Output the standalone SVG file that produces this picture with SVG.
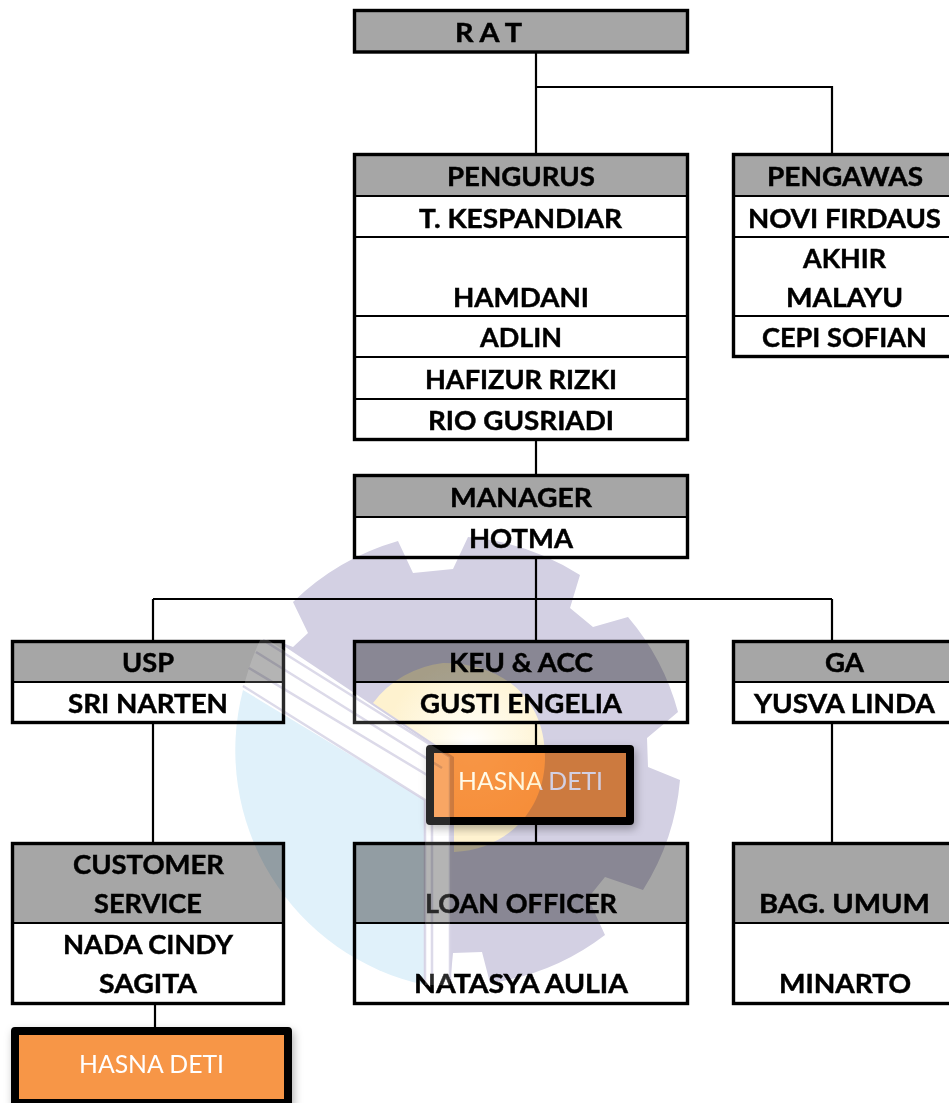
<svg xmlns="http://www.w3.org/2000/svg" width="949" height="1103" viewBox="0 0 949 1103">
<style>
.h{fill:#a6a6a6}
.c{fill:#fff}
.f{fill:none;stroke:#000;stroke-width:3.400}
.r{stroke:#000;stroke-width:2.200;fill:none}
.conn{stroke:#000;stroke-width:2.200;fill:none}
text{font-family:"Lato","Carlito","Open Sans",sans-serif}
.t{font-weight:700;font-size:26.500px;fill:#000;stroke:#000;stroke-width:.45}
.o{fill:#f79646;stroke:#000;stroke-width:8;stroke-linejoin:round}
.ot{font-size:25.500px;fill:#fff}
.sl{fill:none;stroke:#d6d3e5;stroke-width:2.500}
</style>
<defs>
<radialGradient id="y" gradientUnits="userSpaceOnUse" cx="470" cy="745" r="85">
<stop offset="0" stop-color="#fff"/><stop offset="0.35" stop-color="#fffbec"/><stop offset="1" stop-color="#fef2cf"/>
</radialGradient>
<filter id="sh" x="-10%" y="-20%" width="120%" height="140%"><feDropShadow dx="2" dy="4" stdDeviation="4" flood-color="#000" flood-opacity=".3"/></filter>
</defs>
<rect width="949" height="1103" fill="#fff"/>
<g id="connectors" class="conn">
<path d="M536 53V153M536 87H832V153M536 440V474M536 558V640M153 599H832M153 599V640M832 599V640M153 723V842M536 723V745M536 825V842M832 723V842M155 1004V1027"/>
</g>
<g id="rat"><rect class="h" x="354.500" y="10.500" width="333" height="41.500"/><rect class="f" x="354.500" y="10.500" width="333" height="41.500"/>
<text class="t" x="455" y="42" textLength="67" lengthAdjust="spacingAndGlyphs">R A T</text></g>
<g id="pengurus"><rect class="h" x="354.500" y="154.500" width="333" height="41"/><path class="r" d="M355 196H687M355 237H687M355 316H687M355 357H687M355 399H687"/><rect class="f" x="354.500" y="154.500" width="333" height="285"/>
<text class="t" x="447" y="186" textLength="148" lengthAdjust="spacingAndGlyphs">PENGURUS</text>
<text class="t" x="419" y="228" textLength="203" lengthAdjust="spacingAndGlyphs">T. KESPANDIAR</text>
<text class="t" x="453" y="307" textLength="136" lengthAdjust="spacingAndGlyphs">HAMDANI</text>
<text class="t" x="480" y="347" textLength="82" lengthAdjust="spacingAndGlyphs">ADLIN</text>
<text class="t" x="425" y="389" textLength="192" lengthAdjust="spacingAndGlyphs">HAFIZUR RIZKI</text>
<text class="t" x="428" y="430" textLength="186" lengthAdjust="spacingAndGlyphs">RIO GUSRIADI</text></g>
<g id="pengawas"><rect class="h" x="733.500" y="154.500" width="220" height="41"/><path class="r" d="M734 196H949M734 237H949M734 316H949"/><rect class="f" x="733.500" y="154.500" width="220" height="202"/>
<text class="t" x="767" y="186" textLength="156" lengthAdjust="spacingAndGlyphs">PENGAWAS</text>
<text class="t" x="748" y="228" textLength="193" lengthAdjust="spacingAndGlyphs">NOVI FIRDAUS</text>
<text class="t" x="803" y="268" textLength="83" lengthAdjust="spacingAndGlyphs">AKHIR</text>
<text class="t" x="786" y="307" textLength="117" lengthAdjust="spacingAndGlyphs">MALAYU</text>
<text class="t" x="762" y="347" textLength="165" lengthAdjust="spacingAndGlyphs">CEPI SOFIAN</text></g>
<g id="manager"><rect class="h" x="354.500" y="475.500" width="333" height="41"/><path class="r" d="M355 517H687"/><rect class="f" x="354.500" y="475.500" width="333" height="82"/>
<text class="t" x="450" y="507" textLength="142" lengthAdjust="spacingAndGlyphs">MANAGER</text>
<text class="t" x="469" y="548" textLength="104" lengthAdjust="spacingAndGlyphs">HOTMA</text></g>
<g id="usp"><rect class="h" x="12.500" y="641.500" width="271" height="41"/><path class="r" d="M13 682H283"/><rect class="f" x="12.500" y="641.500" width="271" height="81"/>
<text class="t" x="122" y="672" textLength="52" lengthAdjust="spacingAndGlyphs">USP</text>
<text class="t" x="68" y="713" textLength="160" lengthAdjust="spacingAndGlyphs">SRI NARTEN</text></g>
<g id="keu"><rect class="h" x="354.500" y="641.500" width="333" height="41"/><path class="r" d="M355 682H687"/><rect class="f" x="354.500" y="641.500" width="333" height="81"/>
<text class="t" x="449" y="672" textLength="144" lengthAdjust="spacingAndGlyphs">KEU &amp; ACC</text>
<text class="t" x="420" y="713" textLength="202" lengthAdjust="spacingAndGlyphs">GUSTI ENGELIA</text></g>
<g id="ga"><rect class="h" x="733.500" y="641.500" width="220" height="41"/><path class="r" d="M734 682H949"/><rect class="f" x="733.500" y="641.500" width="220" height="81"/>
<text class="t" x="825" y="672" textLength="39" lengthAdjust="spacingAndGlyphs">GA</text>
<text class="t" x="754" y="713" textLength="181" lengthAdjust="spacingAndGlyphs">YUSVA LINDA</text></g>
<g id="customer"><rect class="h" x="12.500" y="843.500" width="271" height="80"/><path class="r" d="M13 923H283"/><rect class="f" x="12.500" y="843.500" width="271" height="160"/>
<text class="t" x="73" y="874" textLength="151" lengthAdjust="spacingAndGlyphs">CUSTOMER</text>
<text class="t" x="94" y="913" textLength="108" lengthAdjust="spacingAndGlyphs">SERVICE</text>
<text class="t" x="63" y="954" textLength="170" lengthAdjust="spacingAndGlyphs">NADA CINDY</text>
<text class="t" x="99" y="993" textLength="98" lengthAdjust="spacingAndGlyphs">SAGITA</text></g>
<g id="loan"><rect class="h" x="354.500" y="843.500" width="333" height="80"/><path class="r" d="M355 923H687"/><rect class="f" x="354.500" y="843.500" width="333" height="160"/>
<text class="t" x="425" y="913" textLength="192" lengthAdjust="spacingAndGlyphs">LOAN OFFICER</text>
<text class="t" x="414" y="993" textLength="214" lengthAdjust="spacingAndGlyphs">NATASYA AULIA</text></g>
<g id="umum"><rect class="h" x="733.500" y="843.500" width="220" height="80"/><path class="r" d="M734 923H949"/><rect class="f" x="733.500" y="843.500" width="220" height="160"/>
<text class="t" x="759" y="913" textLength="171" lengthAdjust="spacingAndGlyphs">BAG. UMUM</text>
<text class="t" x="779" y="993" textLength="132" lengthAdjust="spacingAndGlyphs">MINARTO</text></g>
<g id="hasna1"><rect class="o" filter="url(#sh)" x="430" y="749" width="200" height="72"/>
<text class="ot" x="458" y="790" textLength="145" lengthAdjust="spacingAndGlyphs">HASNA DETI</text></g>
<g id="hasna2"><rect class="o" filter="url(#sh)" x="15" y="1031" width="273" height="72"/>
<text class="ot" x="79" y="1073" textLength="145" lengthAdjust="spacingAndGlyphs">HASNA DETI</text></g>
<g id="watermark" style="mix-blend-mode:multiply">
<path fill="#d3d0e3" d="M293 602A250 250 0 0 1 398 541L413 573L453 569L468 537A250 250 0 0 1 580 575L570 608L593 627L628 617A245 245 0 0 1 678 712L647 738L648 767L680 780A245 245 0 0 1 643 890L605 877L588 898L605 935A245 245 0 0 1 490 983L482 952L453 953L450 985L450 757L275 640L293 647L308 633Z"/>
<path fill="#e0f1fa" d="M243 690L425 800V985A240 240 0 0 1 243 690Z"/>
<path fill="url(#y)" d="M373 703A103 103 0 0 1 443 663C505 663 545 700 545 757C545 812 505 850 454 852V757Z"/>
<g class="sl">
<path d="M263 640L450 757V985"/><path d="M256 652L442 768"/><path d="M249 668L432 778V985"/><path d="M243 686L425 800V985"/>
</g>
</g>
<g id="stripes-light" fill="#fff" opacity=".16">
<path d="M262 636L450 757V985H425V800L243 690A240 240 0 0 1 262 636Z"/>
</g>
</svg>
